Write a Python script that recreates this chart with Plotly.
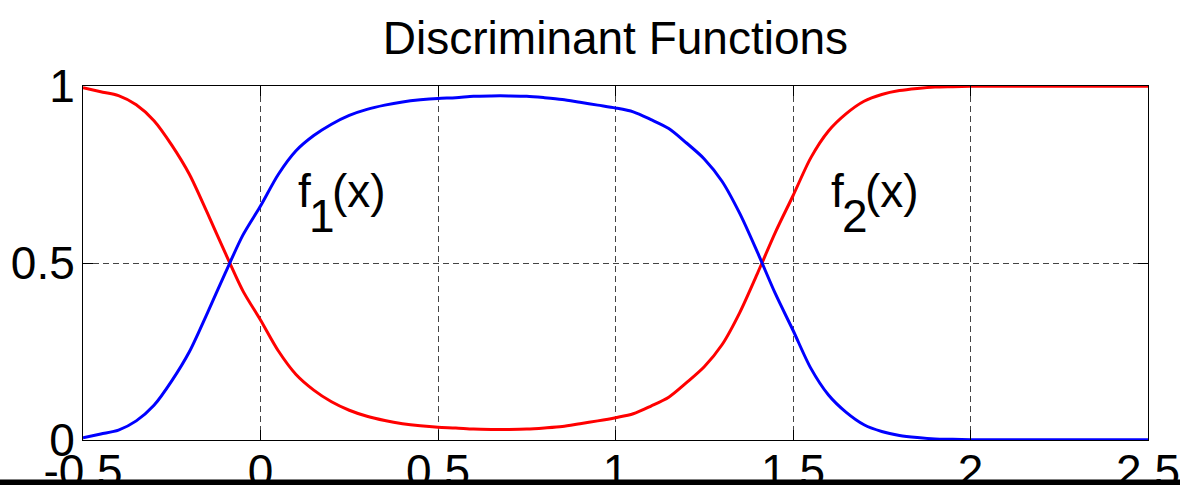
import plotly.graph_objects as go

# Sample positions along x
x_vals = [-0.50, -0.45, -0.40, -0.35, -0.30, -0.25, -0.20, -0.15, -0.10, -0.05,
          0.00, 0.05, 0.10, 0.15, 0.20, 0.25, 0.30, 0.35, 0.40, 0.45,
          0.50, 0.55, 0.60, 0.65, 0.70, 0.75, 0.80, 0.85, 0.90, 0.95,
          1.00, 1.05, 1.10, 1.15, 1.20, 1.25, 1.30, 1.35, 1.40, 1.45,
          1.50, 1.55, 1.60, 1.65, 1.70, 1.75, 1.80, 1.85, 1.90, 1.95,
          2.00, 2.05, 2.10, 2.15, 2.20, 2.25, 2.30, 2.35, 2.40, 2.45, 2.50]

# f1(x): blue discriminant
f1_vals = [0.006, 0.017, 0.028, 0.054, 0.098, 0.167, 0.250, 0.358, 0.470, 0.578,
           0.661, 0.750, 0.817, 0.860, 0.892, 0.917, 0.934, 0.946, 0.955, 0.961,
           0.965, 0.967, 0.971, 0.972, 0.972, 0.971, 0.967, 0.962, 0.954, 0.946,
           0.938, 0.927, 0.905, 0.880, 0.839, 0.794, 0.731, 0.640, 0.530, 0.414,
           0.310, 0.203, 0.127, 0.078, 0.043, 0.024, 0.013, 0.007, 0.003, 0.002,
           0.001, 0.001, 0.001, 0.001, 0.001, 0.001, 0.001, 0.001, 0.001, 0.001, 0.001]

# f2(x): red discriminant
f2_vals = [0.995, 0.984, 0.973, 0.947, 0.902, 0.833, 0.750, 0.642, 0.530, 0.422,
           0.339, 0.252, 0.185, 0.141, 0.108, 0.084, 0.067, 0.055, 0.046, 0.040,
           0.036, 0.034, 0.031, 0.030, 0.030, 0.031, 0.034, 0.038, 0.046, 0.054,
           0.063, 0.074, 0.096, 0.121, 0.162, 0.207, 0.269, 0.360, 0.471, 0.586,
           0.690, 0.797, 0.873, 0.922, 0.957, 0.976, 0.987, 0.993, 0.997, 0.998,
           0.999, 0.999, 0.999, 0.999, 0.999, 0.999, 0.999, 0.999, 0.999, 0.999, 0.999]

x_ticks = [-0.5, 0, 0.5, 1, 1.5, 2, 2.5]
x_tick_text = ["-0.5", "0", "0.5", "1", "1.5", "2", "2.5"]
y_ticks = [0, 0.5, 1]
y_tick_text = ["0", "0.5", "1"]

FONT = "Liberation Sans, Arial, sans-serif"
FS = 46

fig = go.Figure()
fig.add_trace(go.Scatter(x=x_vals, y=f2_vals, mode="lines",
                         line=dict(color="#ff0000", width=3, shape="spline", smoothing=0.8),
                         showlegend=False))
fig.add_trace(go.Scatter(x=x_vals, y=f1_vals, mode="lines",
                         line=dict(color="#0000ff", width=3, shape="spline", smoothing=0.8),
                         showlegend=False))

axis_common = dict(
    showline=True, linecolor="black", linewidth=1, mirror="ticks",
    ticks="inside", ticklen=10, tickcolor="black", tickwidth=1,
    showgrid=True, gridcolor="#444444", gridwidth=1, griddash="6px,4px",
    zeroline=False, automargin=False,
    tickfont=dict(family=FONT, size=FS, color="black"),
)

fig.update_xaxes(range=[-0.5, 2.5], tickvals=x_ticks, ticktext=x_tick_text,
                 ticklabelstandoff=-9, **axis_common)
fig.update_yaxes(range=[0, 1], tickvals=y_ticks, ticktext=y_tick_text,
                 ticklabelstandoff=-2, **axis_common)

# Function labels with full-size, lowered subscripts
def add_label(x0, y0, sub):
    common = dict(xref="x", yref="y", x=x0, y=y0, showarrow=False,
                  xanchor="left", yanchor="middle",
                  font=dict(family=FONT, size=FS, color="black"))
    fig.add_annotation(text="f", xshift=0, **common)
    fig.add_annotation(text=sub, xshift=11, yshift=-25, **common)
    fig.add_annotation(text="(x)", xshift=34, **common)

add_label(0.10, 0.703, "1")
add_label(1.60, 0.703, "2")

# Bottom edge bar
fig.add_shape(type="rect", xref="paper", yref="paper",
              x0=-0.2, x1=1.2, y0=-(479.5 - 440) / 354, y1=-0.2,
              fillcolor="black", line=dict(width=0), layer="above")

fig.update_layout(
    width=1180, height=485,
    margin=dict(l=83, r=32, t=86, b=45),
    paper_bgcolor="white", plot_bgcolor="white",
    title=dict(text="Discriminant Functions", x=0.5, xref="paper",
               y=1 - 38 / 485, yref="container", yanchor="middle",
               font=dict(family=FONT, size=FS, color="black")),
    showlegend=False,
)

fig.write_html("out.html")
